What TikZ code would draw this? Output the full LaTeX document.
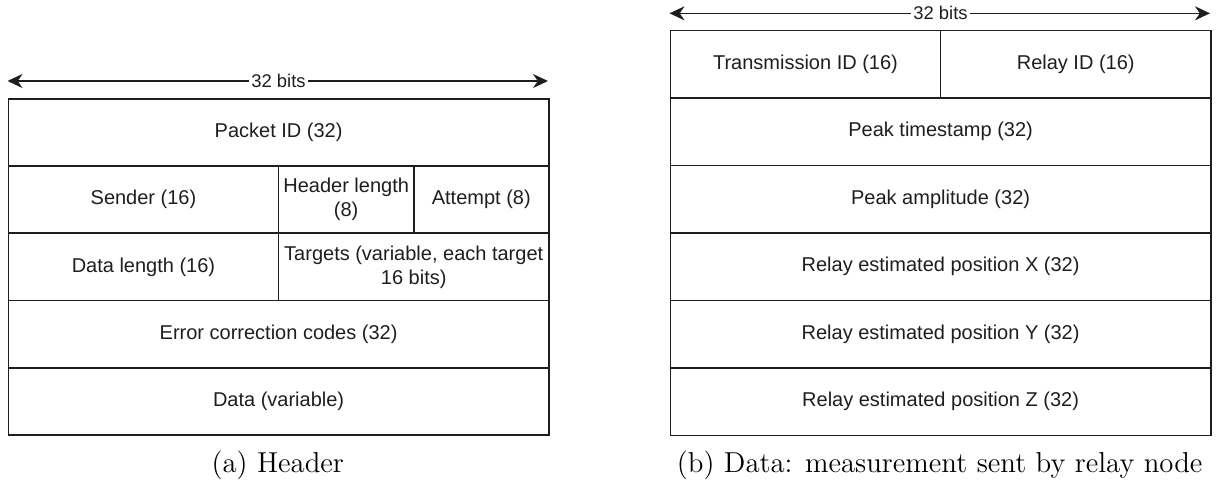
\documentclass[tikz,border=0pt]{standalone}
\usepackage{fontspec}
\newfontfamily\boxfont{Liberation Sans}
\usetikzlibrary{arrows.meta}
\definecolor{ink}{HTML}{1E1E1E}
\begin{document}
\begin{tikzpicture}[x=0.5pt,y=-0.5pt,
  cell/.style={draw=ink, line width=0.85pt, anchor=north west, inner sep=0pt,
    align=center, text=ink, font=\boxfont\fontsize{10}{12}\selectfont},
  full/.style={minimum width=270.25pt},
  half/.style={minimum width=135.125pt},
  quarter/.style={minimum width=67.5625pt},
  rowa/.style={minimum height=33.6pt},
  rowb/.style={minimum height=33.75pt},
  bitlabel/.style={fill=white, inner sep=1pt, text=ink,
    font=\boxfont\fontsize{9.2}{11}\selectfont},
  dim/.style={draw=ink, line width=0.7pt,
    -{Stealth[length=7.5pt, width=7pt, inset=2.4pt]}},
  caption/.style={inner sep=0pt, font=\fontsize{14.4}{17}\selectfont}
]
\useasboundingbox (0,0) rectangle (1217,484);

% ---- (a) header layout ----
\coordinate (ha-l) at (7.5,81);
\coordinate (ha-r) at (548,81);
\node[bitlabel] (ha-bits) at (278.5,81) {32 bits};
\draw[dim] (ha-bits) -- (ha-l);
\draw[dim] (ha-bits) -- (ha-r);

\node[cell, full, rowa] (pid) at (7.5,98) {Packet ID (32)};
\node[cell, half, rowa] (sender) at (7.5,165.2) {Sender (16)};
\node[cell, quarter, rowa] (hlen) at (277.75,165.2) {Header length\\(8)};
\node[cell, quarter, rowa] (attempt) at (412.875,165.2) {Attempt (8)};
\node[cell, half, rowa] (dlen) at (7.5,232.4) {Data length (16)};
\node[cell, half, rowa] (targets) at (277.75,232.4) {Targets (variable, each target\\16 bits)};
\node[cell, full, rowa] (ecc) at (7.5,299.6) {Error correction codes (32)};
\node[cell, full, rowa] (data) at (7.5,366.8) {Data (variable)};

\node[caption] (cap-a) at (277.75,465) {(a) Header};

% ---- (b) relay measurement layout ----
\coordinate (hb-l) at (669.5,13.3);
\coordinate (hb-r) at (1210,13.3);
\node[bitlabel] (hb-bits) at (940.5,13.3) {32 bits};
\draw[dim] (hb-bits) -- (hb-l);
\draw[dim] (hb-bits) -- (hb-r);

\node[cell, half, rowb] (txid) at (669.5,29.7) {Transmission ID (16)};
\node[cell, half, rowb] (relayid) at (939.75,29.7) {Relay ID (16)};
\node[cell, full, rowb] (pts) at (669.5,97.2) {Peak timestamp (32)};
\node[cell, full, rowb] (pamp) at (669.5,164.7) {Peak amplitude (32)};
\node[cell, full, rowb] (posx) at (669.5,232.2) {Relay estimated position X (32)};
\node[cell, full, rowb] (posy) at (669.5,299.7) {Relay estimated position Y (32)};
\node[cell, full, rowb] (posz) at (669.5,367.2) {Relay estimated position Z (32)};

\node[caption] (cap-b) at (939.75,465) {(b) Data: measurement sent by relay node};
\end{tikzpicture}
\end{document}
